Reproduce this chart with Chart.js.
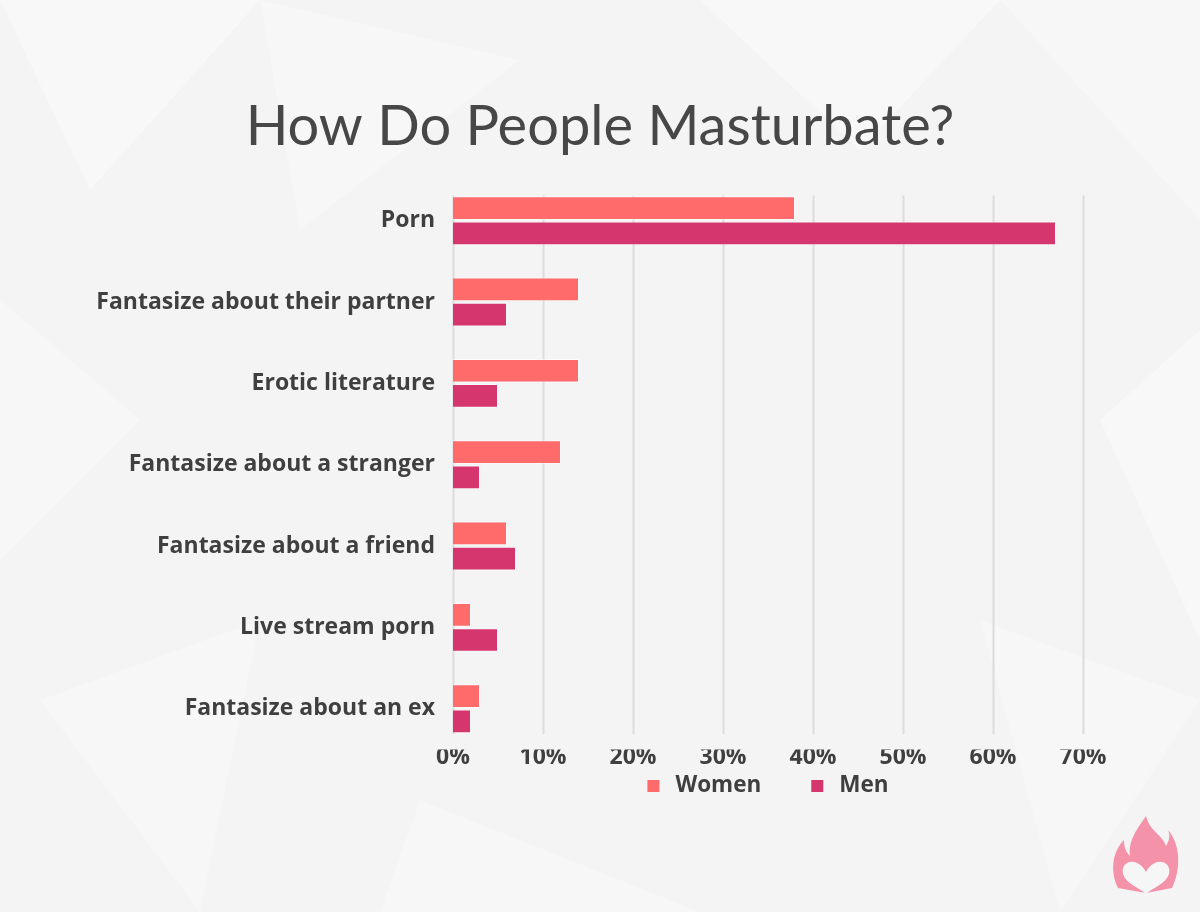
<!DOCTYPE html>
<html>
<head>
<meta charset="utf-8">
<script src="https://cdn.jsdelivr.net/npm/chart.js@4"></script>
<style>
  html, body { margin: 0; padding: 0; background: #f5f5f5; }
  #wrap { width: 1200px; height: 912px; }
</style>
</head>
<body>
<div id="wrap"><canvas id="myChart" width="1200" height="912"></canvas></div>
<script>
const categories = [
    "Porn",
    "Fantasize about their partner",
    "Erotic literature",
    "Fantasize about a stranger",
    "Fantasize about a friend",
    "Live stream porn",
    "Fantasize about an ex"
];
const women = [38, 14, 14, 12, 6, 2, 3];
const men = [67, 6, 5, 3, 7, 5, 2];
const xTicks = [0, 10, 20, 30, 40, 50, 60, 70];

const chartTitle = "How Do People Masturbate?";
const womenColor = "#ff6b6b";
const menColor = "#d6366e";
const textColor = "#3f3f3f";

// background with a few faint low-poly shapes
const backdrop = {
    id: "backdrop",
    beforeDraw: (chart) => {
        const ctx = chart.ctx;
        ctx.save();
        ctx.fillStyle = "#f4f4f4";
        ctx.fillRect(0, 0, chart.width, chart.height);
        const tris = [
            [[0, 0], [260, 0], [90, 190], 0.35],
            [[260, 0], [520, 60], [300, 230], 0.25],
            [[700, 0], [1000, 0], [860, 150], 0.35],
            [[1000, 0], [1200, 0], [1200, 220], 0.25],
            [[0, 300], [140, 420], [0, 560], 0.3],
            [[40, 700], [260, 620], [200, 912], 0.25],
            [[1100, 420], [1200, 330], [1200, 640], 0.35],
            [[980, 620], [1200, 700], [1060, 912], 0.25],
            [[420, 800], [700, 912], [380, 912], 0.25]
        ];
        tris.forEach(t => {
            ctx.fillStyle = "rgba(255,255,255," + t[3] + ")";
            ctx.beginPath();
            ctx.moveTo(t[0][0], t[0][1]);
            ctx.lineTo(t[1][0], t[1][1]);
            ctx.lineTo(t[2][0], t[2][1]);
            ctx.closePath();
            ctx.fill();
        });
        ctx.restore();
    }
};

// title centred on the whole picture
const topTitle = {
    id: "topTitle",
    afterDraw: (chart) => {
        const ctx = chart.ctx;
        ctx.save();
        ctx.font = "56px Lato";
        ctx.fillStyle = "#474747";
        ctx.textAlign = "center";
        ctx.textBaseline = "middle";
        ctx.fillText(chartTitle, chart.width / 2, 127);
        ctx.restore();
    }
};

// vertical grid lines, a bit shorter than the plot area
const gridLines = {
    id: "gridLines",
    beforeDatasetsDraw: (chart) => {
        const ctx = chart.ctx;
        const area = chart.chartArea;
        const x = chart.scales.x;
        const band = (area.bottom - area.top) / categories.length;
        const inset = band * 0.19;
        ctx.save();
        xTicks.forEach(v => {
            const px = Math.round(x.getPixelForValue(v)) + 0.5;
            ctx.strokeStyle = "#dcdcdc";
            ctx.lineWidth = 2;
            ctx.beginPath();
            ctx.moveTo(px, area.top + inset);
            ctx.lineTo(px, area.bottom - inset);
            ctx.stroke();
        });
        ctx.restore();
    }
};

// legend under the axis, centred on the plot area
const bottomLegend = {
    id: "bottomLegend",
    afterDraw: (chart) => {
        const ctx = chart.ctx;
        const area = chart.chartArea;
        const box = 12, gapText = 16, gapItem = 50;
        ctx.save();
        ctx.font = "bold 22.5px 'Open Sans'";
        ctx.textBaseline = "middle";
        const sets = chart.data.datasets;
        let total = 0;
        sets.forEach((ds, i) => {
            total += box + gapText + ctx.measureText(ds.label).width;
            if (i < sets.length - 1) total += gapItem;
        });
        let cx = (area.left + area.right) / 2 - total / 2;
        const cy = 786;
        sets.forEach(ds => {
            ctx.fillStyle = ds.backgroundColor;
            ctx.fillRect(cx, cy - box / 2, box, box);
            cx += box + gapText;
            ctx.fillStyle = textColor;
            ctx.fillText(ds.label, cx, cy);
            cx += ctx.measureText(ds.label).width + gapItem;
        });
        ctx.restore();
    }
};

// little flame logo in the corner
const logo = {
    id: "logo",
    afterDraw: (chart) => {
        const ctx = chart.ctx;
        ctx.save();
        ctx.fillStyle = "#f392a9";
        ctx.beginPath();
        ctx.moveTo(1146, 816);
        ctx.bezierCurveTo(1150, 832, 1162, 834, 1166, 846);
        ctx.bezierCurveTo(1170, 840, 1170, 834, 1168, 830);
        ctx.bezierCurveTo(1182, 846, 1180, 872, 1172, 888);
        ctx.lineTo(1146, 893);
        ctx.lineTo(1118, 888);
        ctx.bezierCurveTo(1110, 872, 1112, 852, 1124, 840);
        ctx.bezierCurveTo(1124, 848, 1126, 852, 1130, 856);
        ctx.bezierCurveTo(1128, 840, 1138, 828, 1146, 816);
        ctx.closePath();
        ctx.fill();
        ctx.fillStyle = "#f6f6f6";
        ctx.beginPath();
        ctx.moveTo(1146, 872);
        ctx.bezierCurveTo(1138, 856, 1120, 860, 1123, 874);
        ctx.bezierCurveTo(1126, 884, 1140, 888, 1146, 894);
        ctx.bezierCurveTo(1152, 888, 1166, 884, 1169, 874);
        ctx.bezierCurveTo(1172, 860, 1154, 856, 1146, 872);
        ctx.closePath();
        ctx.fill();
        ctx.restore();
    }
};

const barConf = {
    type: "bar",
    data: {
        labels: categories,
        datasets: [
            {
                label: "Women",
                data: women,
                backgroundColor: womenColor,
                borderColor: "rgba(255,255,255,0.55)",
                borderWidth: 1,
                categoryPercentage: 0.62,
                barPercentage: 0.94
            },
            {
                label: "Men",
                data: men,
                backgroundColor: menColor,
                borderColor: "rgba(255,255,255,0.35)",
                borderWidth: 1,
                categoryPercentage: 0.62,
                barPercentage: 0.94
            }
        ]
    },
    options: {
        indexAxis: "y",
        responsive: false,
        animation: false,
        layout: {
            padding: { top: 180, right: 117, bottom: 147, left: 0 }
        },
        plugins: {
            legend: { display: false },
            tooltip: { enabled: false },
            title: { display: false }
        },
        scales: {
            x: {
                min: 0,
                max: 70,
                grid: { display: false, drawTicks: false },
                border: { display: false },
                ticks: {
                    stepSize: 10,
                    padding: -6,
                    color: textColor,
                    font: { family: "Open Sans", size: 23, weight: "bold" },
                    callback: (v) => v + "%"
                }
            },
            y: {
                grid: { display: false, drawTicks: false },
                border: { display: false },
                ticks: {
                    padding: 18,
                    color: textColor,
                    font: { family: "Open Sans", size: 23, weight: "bold" }
                },
                afterFit: (scale) => { scale.width = 453; }
            }
        }
    },
    plugins: [backdrop, gridLines, topTitle, bottomLegend, logo]
};

new Chart(document.getElementById("myChart"), barConf);
</script>
</body>
</html>
